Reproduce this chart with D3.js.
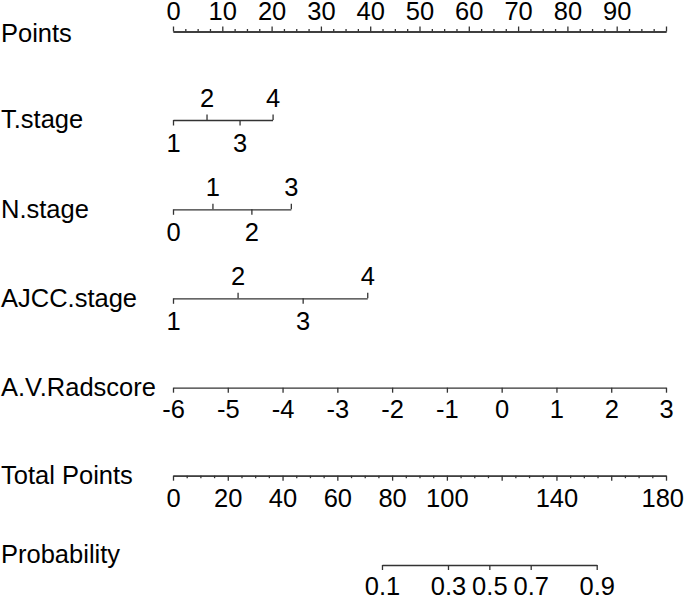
<!DOCTYPE html>
<html>
<head>
<meta charset="utf-8">
<script src="https://cdn.jsdelivr.net/npm/d3@7"></script>
<style>
  html, body { margin: 0; padding: 0; background: #fff; }
  svg text { font-family: "Liberation Sans", Arial, Helvetica, sans-serif; fill: #000; }
</style>
</head>
<body>
<svg id="chart" width="685" height="597"></svg>
<script>
// ---------------- data ----------------
const pointsMajorTicks = [0, 10, 20, 30, 40, 50, 60, 70, 80, 90, 100];
const pointsLabelTicks = [0, 10, 20, 30, 40, 50, 60, 70, 80, 90];
const pointsMinorStep = 2.5;

const tStageLevels = ["1", "2", "3", "4"];
const tStagePoints = [0, 6.8, 13.5, 20.2];

const nStageLevels = ["0", "1", "2", "3"];
const nStagePoints = [0, 8.0, 15.9, 23.9];

const ajccLevels = ["1", "2", "3", "4"];
const ajccPoints = [0, 13.1, 26.3, 39.4];

const radscoreTicks = [-6, -5, -4, -3, -2, -1, 0, 1, 2, 3];
const radscoreRange = [-6, 3];          // maps to 0..100 points

const totalMajorTicks = [0, 20, 40, 60, 80, 100, 120, 140, 160, 180];
const totalLabelTicks = [0, 20, 40, 60, 80, 100, 140, 180];
const totalMinorStep = 5;

const probTicks = [0.1, 0.3, 0.5, 0.7, 0.9];
const probTotalPoints = [76.3, 100.4, 115.5, 130.6, 154.7];

const rowLabels = ["Points", "T.stage", "N.stage", "AJCC.stage", "A.V.Radscore", "Total Points", "Probability"];

// ---------------- layout ----------------
const svg = d3.select("#chart");
const FS = 25.5;
const X0 = 173, X1 = 666;
const W = 685;
const lineColor = "#333";

const ptsX = d3.scaleLinear().domain([0, 100]).range([X0, X1]);
const radX = d3.scaleLinear().domain(radscoreRange).range([X0, X1]);
const totX = d3.scaleLinear().domain([0, 180]).range([X0, X1]);

const rowY = [31.5, 120, 209.3, 298.3, 387.7, 475.7, 565];
const labelY = [41.5, 128, 218, 307, 396, 484, 563];

// Row labels
svg.selectAll("text.rowlab").data(rowLabels).join("text")
  .attr("class", "rowlab")
  .attr("x", 1)
  .attr("y", (d, i) => labelY[i])
  .style("font-size", FS + "px")
  .text(d => d);

function styleAxis(g) {
  g.selectAll("path.domain").attr("stroke", lineColor).attr("stroke-width", 1.3);
  g.selectAll(".tick line").attr("stroke", lineColor).attr("stroke-width", 1.3);
  g.selectAll(".tick text").style("font-size", FS + "px").attr("fill", "#000")
    .style("font-family", '"Liberation Sans", Arial, Helvetica, sans-serif');
  g.attr("font-family", null).attr("font-size", null);
}

// keep tick labels inside the picture
function fitInside(g) {
  g.selectAll(".tick text").each(function () {
    const t = d3.select(this);
    const len = this.getComputedTextLength();
    if (!len) return;
    const tr = this.parentNode.getAttribute("transform");
    const cx = +/translate\(([-\d.e]+)/.exec(tr)[1];
    const right = cx + len / 2;
    if (right > W - 1) t.attr("x", (W - 1) - right);
  });
}

// Points axis
const minorPts = d3.range(0, 100 + 1e-9, pointsMinorStep).filter(v => !pointsMajorTicks.includes(v));
svg.append("g").attr("transform", `translate(0,${rowY[0]})`)
  .call(d3.axisTop(ptsX).tickValues(minorPts).tickSize(2.5).tickSizeOuter(0).tickFormat(""))
  .call(styleAxis);
svg.append("g").attr("transform", `translate(0,${rowY[0]})`)
  .call(d3.axisTop(ptsX).tickValues(pointsMajorTicks).tickSize(5).tickSizeOuter(0).tickPadding(6.8)
        .tickFormat(v => pointsLabelTicks.includes(v) ? d3.format("d")(v) : ""))
  .call(styleAxis);

// Categorical variable axes
function catAxis(levels, pts, y) {
  const sub = d3.scaleLinear().domain([pts[0], pts[pts.length - 1]])
    .range([ptsX(pts[0]), ptsX(pts[pts.length - 1])]);
  const up = pts.filter((p, i) => i % 2 === 1);
  const down = pts.filter((p, i) => i % 2 === 0);
  const lab = v => levels[pts.indexOf(v)];
  svg.append("g").attr("transform", `translate(0,${y})`)
    .call(d3.axisTop(sub).tickValues(up).tickSize(5.5).tickSizeOuter(0).tickPadding(8).tickFormat(lab))
    .call(styleAxis);
  svg.append("g").attr("transform", `translate(0,${y})`)
    .call(d3.axisBottom(sub).tickValues(down).tickSize(5.5).tickSizeOuter(0).tickPadding(8.2).tickFormat(lab))
    .call(styleAxis)
    .call(g => g.select("path.domain").remove());
}
catAxis(tStageLevels, tStagePoints, rowY[1]);
catAxis(nStageLevels, nStagePoints, rowY[2]);
catAxis(ajccLevels, ajccPoints, rowY[3]);

// Radscore axis
svg.append("g").attr("transform", `translate(0,${rowY[4]})`)
  .call(d3.axisBottom(radX).tickValues(radscoreTicks).tickSize(5).tickSizeOuter(0).tickPadding(7.4)
        .tickFormat(d3.format("d")))
  .call(styleAxis)
  .call(g => g.selectAll(".tick text").text(d => d < 0 ? "-" + Math.abs(d) : d))
  .call(fitInside);

// Total points axis
const minorTot = d3.range(0, 180 + 1e-9, totalMinorStep).filter(v => !totalMajorTicks.includes(v));
svg.append("g").attr("transform", `translate(0,${rowY[5]})`)
  .call(d3.axisBottom(totX).tickValues(minorTot).tickSize(2.5).tickSizeOuter(0).tickFormat(""))
  .call(styleAxis);
svg.append("g").attr("transform", `translate(0,${rowY[5]})`)
  .call(d3.axisBottom(totX).tickValues(totalMajorTicks).tickSize(5).tickSizeOuter(0).tickPadding(7.9)
        .tickFormat(v => totalLabelTicks.includes(v) ? d3.format("d")(v) : ""))
  .call(styleAxis)
  .call(fitInside);

// Probability axis
const probX = d3.scaleLinear().domain([probTotalPoints[0], probTotalPoints[probTotalPoints.length - 1]])
  .range([totX(probTotalPoints[0]), totX(probTotalPoints[probTotalPoints.length - 1])]);
svg.append("g").attr("transform", `translate(0,${rowY[6]})`)
  .call(d3.axisBottom(probX).tickValues(probTotalPoints).tickSize(5).tickSizeOuter(0).tickPadding(6.5)
        .tickFormat(v => String(probTicks[probTotalPoints.indexOf(v)])))
  .call(styleAxis);
</script>
</body>
</html>
